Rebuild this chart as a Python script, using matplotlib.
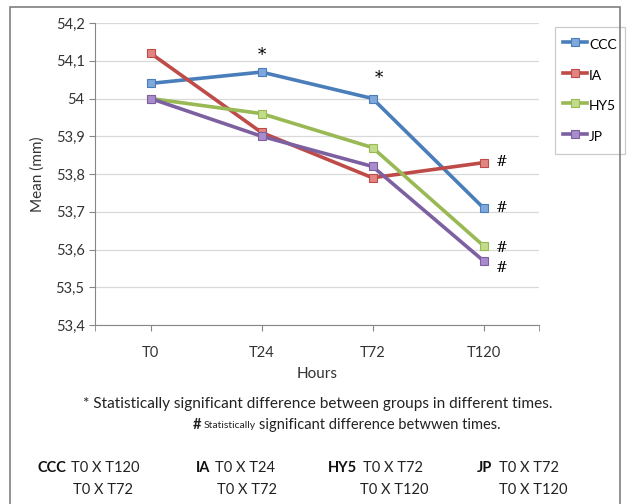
import matplotlib.pyplot as plt
from matplotlib.patches import Rectangle

plt.rcParams['font.family'] = ['Lato', 'DejaVu Sans']

hours = ["T0", "T24", "T72", "T120"]
groups = ["CCC", "IA", "HY5", "JP"]
ccc = [54.04, 54.07, 54.00, 53.71]
ia = [54.12, 53.91, 53.79, 53.83]
hy5 = [54.00, 53.96, 53.87, 53.61]
jp = [54.00, 53.90, 53.82, 53.57]
yticks = [53.4, 53.5, 53.6, 53.7, 53.8, 53.9, 54.0, 54.1, 54.2]
ytick_labels = ["53,4", "53,5", "53,6", "53,7", "53,8", "53,9", "54", "54,1", "54,2"]

series = [ccc, ia, hy5, jp]
line_colors = ["#4a7ebb", "#be4b48", "#98b954", "#7d60a0"]
fill_colors = ["#7fa8dc", "#e08583", "#c3dc8c", "#a98ccb"]

fig = plt.figure(figsize=(6.27, 5.04), dpi=100)
W, H = 627, 504

# outer frame
fig.patches.append(Rectangle((10 / W, -0.01), 610 / W, 1.0 - 7 / H + 0.01,
                             transform=fig.transFigure, fill=False,
                             edgecolor="#7f7f7f", linewidth=1.2))

ax = fig.add_axes([95 / W, 1 - 325 / H, 444 / W, 302 / H])
x = list(range(len(hours)))
for vals, name, lc, fc in zip(series, groups, line_colors, fill_colors):
    ax.plot(x, vals, color=lc, linewidth=2.6, marker="s", markersize=5.5,
            markerfacecolor=fc, markeredgecolor=lc, markeredgewidth=0.8,
            label=name)

ax.set_xlim(-0.5, len(hours) - 0.5)
ax.set_ylim(53.4, 54.2)
ax.set_yticks(yticks)
ax.set_yticklabels(ytick_labels)
ax.set_xticks(x)
ax.set_xticklabels(hours)
ax.set_xticks([-0.5, len(hours) - 0.5], minor=True)
ax.yaxis.grid(True, color="#d9d9d9", linewidth=0.9)
ax.set_axisbelow(True)
for s in ["top", "right"]:
    ax.spines[s].set_visible(False)
ax.spines["left"].set_color("#868686")
ax.spines["bottom"].set_color("#868686")
ax.tick_params(axis="both", which="both", colors="#868686", labelcolor="#333333",
               labelsize=10.5, length=4)
ax.tick_params(axis="x", pad=11)
ax.set_xlabel("Hours", fontsize=11, color="#333333", labelpad=5)
ax.set_ylabel("Mean (mm)", fontsize=11, color="#333333", labelpad=8)

# significance marks
ax.annotate("*", (1, ccc[1]), xytext=(0, 12), textcoords="offset pixels",
            ha="center", fontsize=12, family="DejaVu Serif")
ax.annotate("*", (2, ccc[2]), xytext=(6, 16), textcoords="offset pixels",
            ha="center", fontsize=12, family="DejaVu Serif")
hash_offsets = [0, 1, -2, -7]
for vals, dy in zip(series, hash_offsets):
    ax.annotate("#", (3, vals[3]), xytext=(18, dy), textcoords="offset pixels",
                ha="center", va="center", fontsize=10, family="DejaVu Serif")

leg = ax.legend(loc="upper left", bbox_to_anchor=(555 / W, 1 - 27 / H),
                bbox_transform=fig.transFigure, frameon=True, fancybox=False,
                fontsize=10, handlelength=1.7, handleheight=1.7, handletextpad=0.15,
                labelspacing=0.85, borderpad=0.6, borderaxespad=0)
leg.get_frame().set_edgecolor("#bfbfbf")
leg.get_frame().set_linewidth(0.9)

fig.text(83 / W, 1 - 404 / H, "* Statistically significant difference between groups in different times.",
         ha="left", va="center", fontsize=11.1, color="#222222")
fig.text(193 / W, 1 - 425 / H, "#", ha="left", va="center", fontsize=10.5,
         fontweight="bold", color="#222222")
fig.text(204 / W, 1 - 426 / H, "Statistically", ha="left", va="center",
         fontsize=7.5, color="#222222")
fig.text(259 / W, 1 - 425 / H, "significant difference betwwen times.", ha="left",
         va="center", fontsize=10.5, color="#222222")

rows = [("CCC", 37, 71, "T0 X T120", 73, "T0 X T72"),
        ("IA", 196, 215, "T0 X T24", 217, "T0 X T72"),
        ("HY5", 328, 363, "T0 X T72", 360, "T0 X T120"),
        ("JP", 477, 499, "T0 X T72", 499, "T0 X T120")]
for name, xn, x1, t1, x2, t2 in rows:
    fig.text(xn / W, 1 - 468 / H, name, ha="left", va="center", fontsize=10.5,
             fontweight="bold", color="#111111")
    fig.text(x1 / W, 1 - 468 / H, t1, ha="left", va="center", fontsize=10.5, color="#222222")
    fig.text(x2 / W, 1 - 490 / H, t2, ha="left", va="center", fontsize=10.5, color="#222222")

fig.savefig("out.png", dpi=100)
